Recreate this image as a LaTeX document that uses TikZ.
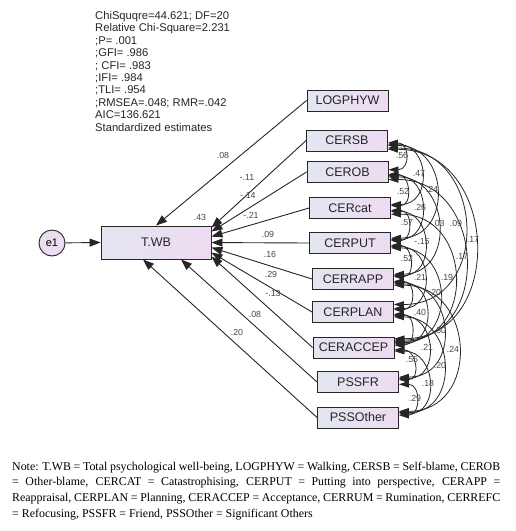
\documentclass[tikz,border=0pt]{standalone}
\usepackage{fontspec}
\setmainfont{Liberation Serif}
\setsansfont{Liberation Sans}
\usetikzlibrary{arrows.meta,calc}
\definecolor{boxL}{RGB}{226,230,240}
\definecolor{boxR}{RGB}{238,219,241}
\definecolor{lineC}{RGB}{38,38,38}
\definecolor{lblC}{RGB}{70,70,70}
\newcommand\covarc[6]{%
  \draw[cov] ($(#1.east)+(0,#3)$) .. controls +(#5,0) and +(#5,0) .. ($(#2.east)+(0,#4)$);}
\begin{document}
\begin{tikzpicture}[x=1pt,y=-1pt,
  var/.style={draw=lineC, line width=0.9pt, minimum width=81pt, minimum height=21pt,
    inner sep=0pt, left color=boxL, right color=boxR,
    font=\sffamily\fontsize{12.5}{13}\selectfont, text=black!85},
  endo/.style={var, minimum width=110pt, minimum height=33pt, left color=boxL!90!boxR, right color=boxR},
  err/.style={circle, draw=lineC, line width=0.9pt, minimum size=26pt, inner sep=0pt,
    fill=boxR!80!boxL, font=\sffamily\fontsize{11}{12}\selectfont},
  pth/.style={draw=lineC, line width=0.9pt, -{Triangle[length=11pt,width=8pt]}},
  cov/.style={draw=lineC, line width=0.8pt,
    {Triangle[length=10pt,width=6.5pt]}-{Triangle[length=10pt,width=6.5pt]}},
  coef/.style={font=\sffamily\fontsize{8.8}{9}\selectfont, text=lblC, inner sep=0pt},
  stat/.style={anchor=base west, inner sep=0pt, font=\sffamily\fontsize{11.2}{12}\selectfont, text=black!85}
]
\useasboundingbox (0,0) rectangle (515,531);

% statistics
\node[stat] (st1) at (95,19.5) {ChiSquqre=44.621; DF=20};
\node[stat] (st2) at (95,31.9) {Relative Chi-Square=2.231};
\node[stat] (st3) at (95,44.3) {;P= .001};
\node[stat] (st4) at (95,56.7) {;GFI= .986};
\node[stat] (st5) at (95,69.1) {; CFI= .983};
\node[stat] (st6) at (95,81.5) {;IFI= .984};
\node[stat] (st7) at (95,93.9) {;TLI= .954};
\node[stat] (st8) at (95,106.3) {;RMSEA=.048; RMR=.042};
\node[stat] (st9) at (95,118.7) {AIC=136.621};
\node[stat] (st10) at (95,131.1) {Standardized estimates};

% variables
\node[var] (logp) at (347.5,100.5) {LOGPHYW};
\node[var] (sb) at (347,140.5) {CERSB};
\node[var] (ob) at (347.5,172) {CEROB};
\node[var] (cat) at (350,208) {CERcat};
\node[var] (put) at (350,243) {CERPUT};
\node[var] (rapp) at (353,279) {CERRAPP};
\node[var] (plan) at (353,312) {CERPLAN};
\node[var] (accep) at (353.5,347.5) {CERACCEP};
\node[var] (fr) at (358,382) {PSSFR};
\node[var] (oth) at (358,417.5) {PSSOther};

\node[endo] (twb) at (156,242.5) {T.WB};
\node[err] (e1) at (52,243) {e1};

% paths
\draw[pth] (e1) -- (twb.west);
\draw[pth] (logp.west) -- (twb.north);
\draw[pth] (sb.west) -- ($(twb.north east)+(0,2)$);
\draw[pth] (ob.west) -- ($(twb.north east)+(0,6)$);
\draw[pth] (cat.west) -- ($(twb.north east)+(0,11)$);
\draw[pth] (put.west) -- ($(twb.north east)+(0,17)$);
\draw[pth] (rapp.west) -- ($(twb.north east)+(0,22)$);
\draw[pth] (plan.west) -- ($(twb.north east)+(0,27)$);
\draw[pth] (accep.west) -- ($(twb.north east)+(0,31)$);
\draw[pth] (fr.west) -- ($(twb.south)+(25,0)$);
\draw[pth] (oth.west) -- ($(twb.south)+(-13,0)$);

\node[coef] (r2) at (200,217) {.43};
\node[coef] (c1) at (223,155) {.08};
\node[coef] (c2) at (247,177) {-.11};
\node[coef] (c3) at (248,195) {-.14};
\node[coef] (c4) at (251,215) {-.21};
\node[coef] (c5) at (268,234) {.09};
\node[coef] (c6) at (270,254) {.16};
\node[coef] (c7) at (271,274) {.29};
\node[coef] (c8) at (273,293) {-.13};
\node[coef] (c9) at (255,314) {.08};
\node[coef] (c10) at (237,332) {.20};

% covariances
\covarc{sb}{ob}{2.3}{-2.3}{22}{}
\covarc{sb}{cat}{3.6}{-3.6}{42}{}
\covarc{sb}{put}{4.9}{-4.9}{62}{}
\covarc{sb}{plan}{7.5}{-7.5}{98}{}
\covarc{sb}{accep}{8.8}{-8.8}{112}{}
\covarc{ob}{cat}{2.3}{-2.3}{22}{}
\covarc{ob}{put}{3.6}{-3.6}{42}{}
\covarc{ob}{rapp}{4.9}{-4.9}{62}{}
\covarc{ob}{accep}{7.5}{-7.5}{98}{}
\covarc{cat}{put}{2.3}{-2.3}{22}{}
\covarc{cat}{rapp}{3.6}{-3.6}{42}{}
\covarc{cat}{accep}{6.2}{-6.2}{82}{}
\covarc{put}{rapp}{2.3}{-2.3}{22}{}
\covarc{put}{plan}{3.6}{-3.6}{42}{}
\covarc{put}{accep}{4.9}{-4.9}{62}{}
\covarc{rapp}{plan}{2.3}{-2.3}{22}{}
\covarc{rapp}{accep}{3.6}{-3.6}{42}{}
\covarc{rapp}{fr}{4.9}{-4.9}{62}{}
\covarc{rapp}{oth}{6.2}{-6.2}{82}{}
\covarc{plan}{accep}{2.3}{-2.3}{22}{}
\covarc{plan}{fr}{3.6}{-3.6}{42}{}
\covarc{plan}{oth}{4.9}{-4.9}{62}{}
\covarc{accep}{fr}{2.3}{-2.3}{22}{}
\covarc{accep}{oth}{3.6}{-3.6}{42}{}
\covarc{fr}{oth}{2.3}{-2.3}{22}{}

\node[coef] (k1) at (402,155) {.56};
\node[coef] (k2) at (419,173) {.47};
\node[coef] (k3) at (432,189) {.24};
\node[coef] (k4) at (403,191) {.52};
\node[coef] (k5) at (420,207) {.26};
\node[coef] (k6) at (437,223) {-.03};
\node[coef] (k7) at (456,223) {.09};
\node[coef] (k8) at (473,239) {.17};
\node[coef] (k9) at (407,223) {.57};
\node[coef] (k10) at (422,242) {-.15};
\node[coef] (k11) at (462,256) {.17};
\node[coef] (k12) at (407,258) {.52};
\node[coef] (k13) at (420,277) {.21};
\node[coef] (k14) at (447,277) {.19};
\node[coef] (k15) at (435,292) {.20};
\node[coef] (k16) at (420,312) {.40};
\node[coef] (k17) at (440,330) {.30};
\node[coef] (k18) at (427,347) {.21};
\node[coef] (k19) at (453,349) {.24};
\node[coef] (k20) at (412,360) {.55};
\node[coef] (k21) at (440,365) {.20};
\node[coef] (k22) at (428,383) {.18};
\node[coef] (k23) at (415,398) {.29};

% note
\node[anchor=north west, inner sep=0pt, text width=488pt, align=justify,
  font=\fontsize{11.9}{15.9}\selectfont] (note) at (12,461.5)
  {Note: T.WB = Total psychological well-being, LOGPHYW = Walking, CERSB = Self-blame, CEROB\linebreak
   = Other-blame, CERCAT = Catastrophising, CERPUT = Putting into perspective, CERAPP =\linebreak
   Reappraisal, CERPLAN = Planning, CERACCEP = Acceptance, CERRUM = Rumination, CERREFC\linebreak
   = Refocusing, PSSFR = Friend, PSSOther = Significant Others};
\end{tikzpicture}
\end{document}
